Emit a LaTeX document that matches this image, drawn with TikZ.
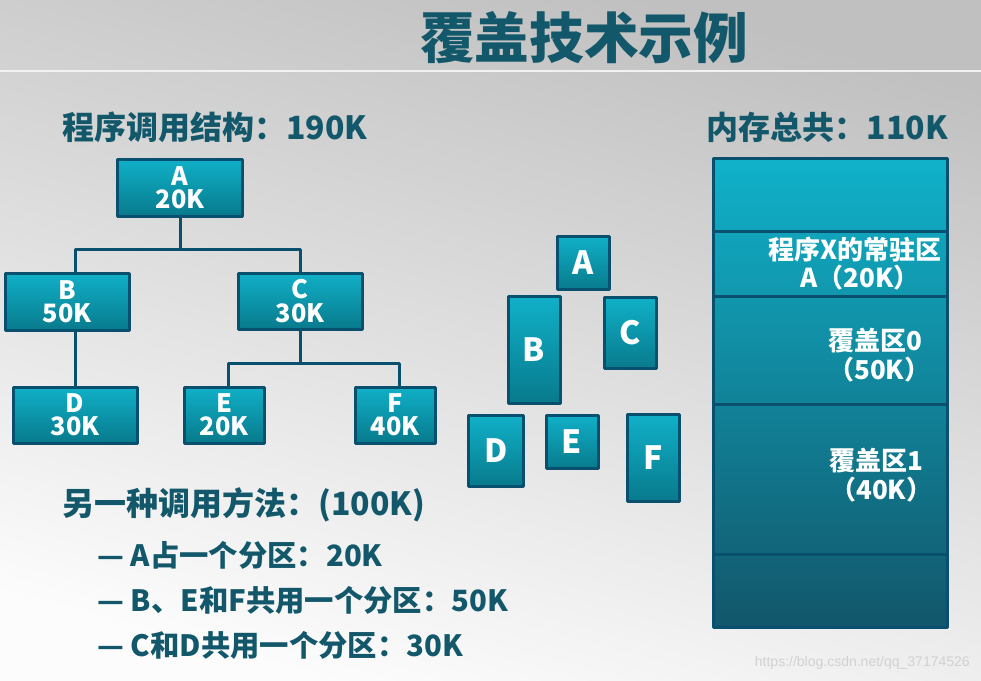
\documentclass[tikz,border=0pt]{standalone}
\usepackage{fontspec}
\setmainfont{Noto Sans CJK SC}
\setsansfont{Liberation Sans}
\usetikzlibrary{shapes}

\definecolor{inkteal}{RGB}{19,88,106}
\definecolor{boxedge}{RGB}{8,80,110}
\definecolor{boxtop}{RGB}{16,176,200}
\definecolor{boxbot}{RGB}{8,122,140}
\definecolor{memtop}{RGB}{16,178,202}
\definecolor{membot}{RGB}{18,86,106}
\definecolor{bgtop}{RGB}{192,192,192}
\definecolor{bgmid}{RGB}{218,218,218}
\definecolor{bgbot}{RGB}{252,252,252}

\begin{document}
\begin{tikzpicture}[x=0.75pt,y=-0.75pt,line join=bevel,
  blk/.style={draw=boxedge,line width=2.25pt,top color=boxtop,bottom color=boxbot,
    text=white,inner sep=0pt,align=center},
  treeblk/.style={blk,font=\fontsize{19}{17.5}\selectfont\bfseries},
  stackblk/.style={blk,minimum width=39pt,font=\fontsize{24}{28}\selectfont\bfseries},
  link/.style={boxedge,line width=2.25pt},
  head/.style={text=inkteal,inner sep=0pt,font=\fontsize{24}{28}\selectfont\bfseries},
  item/.style={text=inkteal,inner sep=0pt,font=\fontsize{22}{26}\selectfont\bfseries},
  memtext/.style={text=white,inner sep=0pt,font=\fontsize{19.5}{22}\selectfont\bfseries},
]
%% background
\useasboundingbox (0,0) rectangle (981,681);
\shade[top color=bgtop,middle color=bgmid,bottom color=bgbot,shading angle=-15] (0,0) rectangle (981,681);
\draw[white!90!gray,line width=1.5pt] (0,71) -- (981,71);
%% title and headings
\node (title) at (584,38) [text=inkteal,inner sep=0pt,font=\fontsize{41}{46}\selectfont\bfseries] {覆盖技术示例};
\node (head_tree) at (62,127) [head,anchor=west] {程序调用结构：190K};
\node (head_mem) at (948,127) [head,anchor=east] {内存总共：110K};
%% call tree
\node (tree_a) at (180,188) [treeblk,minimum width=94pt,minimum height=42pt] {A\\20K};
\node (tree_b) at (67,302) [treeblk,minimum width=93pt,minimum height=43pt] {B\\50K};
\node (tree_c) at (300,301) [treeblk,minimum width=93pt,minimum height=42pt] {C\\30K};
\node (tree_d) at (75,415) [treeblk,minimum width=93pt,minimum height=42pt] {D\\30K};
\node (tree_e) at (224,415) [treeblk,minimum width=60pt,minimum height=42pt] {E\\20K};
\node (tree_f) at (395,415) [treeblk,minimum width=60pt,minimum height=42pt] {F\\40K};
\draw [link] (tree_a.south) -- ++(0,32) coordinate (join_a);
\draw [link] (tree_b.north -| tree_d.north) |- (join_a) -| (tree_c.north);
\draw [link] (tree_b.south -| tree_d.north) -- (tree_d.north);
\draw [link] (tree_c.south) -- ++(0,33) coordinate (join_c);
\draw [link] ([xshift=3pt]tree_e.north) |- (join_c) -| ([xshift=3pt]tree_f.north);
%% overlay blocks
\node (stack_a) at (583,263) [stackblk,minimum height=40pt] {A};
\node (stack_b) at (534,350) [stackblk,minimum height=80pt] {B};
\node (stack_c) at (630,333) [stackblk,minimum height=53pt] {C};
\node (stack_d) at (496,451) [stackblk,minimum width=41pt,minimum height=53pt] {D};
\node (stack_e) at (572,442) [stackblk,minimum height=40pt] {E};
\node (stack_f) at (653,458) [stackblk,minimum height=65pt] {F};
%% memory
\shade[top color=memtop,bottom color=membot] (713,159) rectangle (947,627);
\draw [link] (713,159) rectangle (947,627);
\foreach \y in {231,296,404,554}
  \draw [link] (713,\y) -- (947,\y);
\node (mem_res) at (942,250) [memtext,anchor=east] {程序X的常驻区};
\node (mem_res_size) at (800,278) [memtext,anchor=west] {A（20K）};
\node (mem_ov0) at (828,341) [memtext,anchor=west] {覆盖区0};
\node (mem_ov0_size) at (828,370) [memtext,anchor=west] {（50K）};
\node (mem_ov1) at (829,461) [memtext,anchor=west] {覆盖区1};
\node (mem_ov1_size) at (830,490) [memtext,anchor=west] {（40K）};
%% other way
\node (alt) at (62,505) [head,anchor=west] {另一种调用方法：(100K)};
\node (alt_1) at (97,555) [item,anchor=west] {— A占一个分区：20K};
\node (alt_2) at (97,600) [item,anchor=west] {— B、E和F共用一个分区：50K};
\node (alt_3) at (97,645) [item,anchor=west] {— C和D共用一个分区：30K};
\node (mark) at (970,663) [anchor=east,inner sep=0pt,text=black!18,font=\sffamily\fontsize{10.5}{12}\selectfont] {https://blog.csdn.net/qq\_37174526};
%
\end{tikzpicture}
\end{document}
